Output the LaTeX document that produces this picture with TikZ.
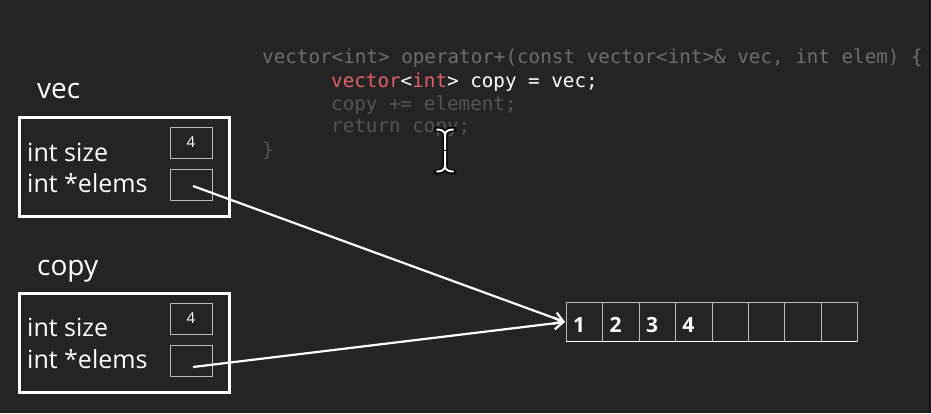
\documentclass[tikz,border=0pt]{standalone}
\usepackage{fontspec}
\setmainfont{Open Sans}
\newfontfamily\codefont{DejaVu Sans Mono}
\usetikzlibrary{arrows.meta}
\definecolor{bg}{HTML}{242424}
\definecolor{codegrey}{HTML}{6E6E6E}
\definecolor{codedim}{HTML}{555555}
\definecolor{codered}{HTML}{E0606A}
\definecolor{cellgrey}{HTML}{BBBBBB}
\tikzset{
  outerbox/.style={draw=white, line width=3pt, minimum width=210pt, minimum height=99pt, inner sep=0pt},
  fieldbox/.style={draw=cellgrey, line width=1pt, minimum width=42pt, minimum height=31pt, inner sep=0pt, text=white, font=\fontsize{15}{15}\selectfont},
  fieldlabel/.style={text=white, anchor=base west, inner sep=0pt, font=\fontsize{25}{25}\selectfont},
  varlabel/.style={text=white, anchor=base west, inner sep=0pt, font=\fontsize{28}{28}\selectfont},
  cell/.style={draw=cellgrey, line width=1pt, minimum width=36.4pt, minimum height=39pt, inner sep=0pt, anchor=north west},
  num/.style={text=white, anchor=west, inner sep=0pt, font=\bfseries\fontsize{21}{21}\selectfont},
  codeline/.style={anchor=west, inner sep=0pt, font=\codefont\fontsize{19.25}{19.25}\selectfont},
  ptr/.style={draw=white, line width=2.2pt, -{Straight Barb[length=9pt,width=12pt,line width=2.2pt]}},
}
\begin{document}
\begin{tikzpicture}[x=1pt,y=-1pt]
\fill[bg] (0,0) rectangle (931,413);
\useasboundingbox (0,0) rectangle (931,413);
\draw[color=black!60!bg, line width=1pt] (929.5,0) -- (929.5,413);

% code
\node[codeline, text=codegrey] (c1) at (262,58) {vector<int> operator+(const vector<int>\&~vec, int elem) \{};
\node[codeline] (c2) at (331,82) {\textcolor{codered}{vector}\textcolor{white}{<}\textcolor{codered}{int}\textcolor{white}{> copy = vec;}};
\node[codeline, text=codedim] (c3) at (331,105) {copy += element;};
\node[codeline, text=codedim] (c4) at (331,128) {return copy;};
\node[codeline, text=codedim] (c5) at (262,151) {\}};

% cursor
\draw[black, line width=5pt, line cap=round] (436,129) .. controls (441,129) and (445,131) .. (445,135) -- (445,166) .. controls (445,170) and (441,172) .. (436,172);
\draw[black, line width=5pt, line cap=round] (454,129) .. controls (449,129) and (445,131) .. (445,135) (445,166) .. controls (445,170) and (449,172) .. (454,172);
\draw[white, line width=2pt, line cap=round] (437,129.5) .. controls (441,129.5) and (445,131) .. (445,135) -- (445,166) .. controls (445,170) and (441,171.5) .. (437,171.5);
\draw[white, line width=2pt, line cap=round] (453,129.5) .. controls (449,129.5) and (445,131) .. (445,135) (445,166) .. controls (445,170) and (449,171.5) .. (453,171.5);
\draw[black, line width=1pt] (442,150) -- (448,150);

% vec
\node[varlabel] (veclab) at (37,98) {vec};
\node[outerbox] (vecbox) at (124,166.5) {};
\node[fieldlabel] (vecsz) at (27,161) {int size};
\node[fieldlabel] (vecel) at (27,192) {int *elems};
\node[fieldbox] (vecszv) at (191,142.5) {4};
\node[fieldbox] (vecelv) at (191,184.5) {};
\coordinate (vecp) at (193,186);

% copy
\node[varlabel] (copylab) at (37,275) {copy};
\node[outerbox] (copybox) at (124,342.5) {};
\node[fieldlabel] (copysz) at (27,336) {int size};
\node[fieldlabel] (copyel) at (27,368) {int *elems};
\node[fieldbox] (copyszv) at (191,318.5) {4};
\node[fieldbox] (copyelv) at (191,360.5) {};
\coordinate (copyp) at (193,367);

% array
\foreach \i in {0,...,7} {
  \node[cell] (cell\i) at ({566+36.4*\i},302) {};
}
\draw[white, line width=1.5pt] (566,341.5) -- (857,341.5);
\node[num] (n1) at (573,325) {1};
\node[num] (n2) at (609.4,325) {2};
\node[num] (n3) at (645.8,325) {3};
\node[num] (n4) at (682.2,325) {4};
\coordinate (arrin) at (565,322);

\draw[ptr] (vecp) -- (arrin);
\draw[ptr] (copyp) -- (arrin);
\end{tikzpicture}
\end{document}
